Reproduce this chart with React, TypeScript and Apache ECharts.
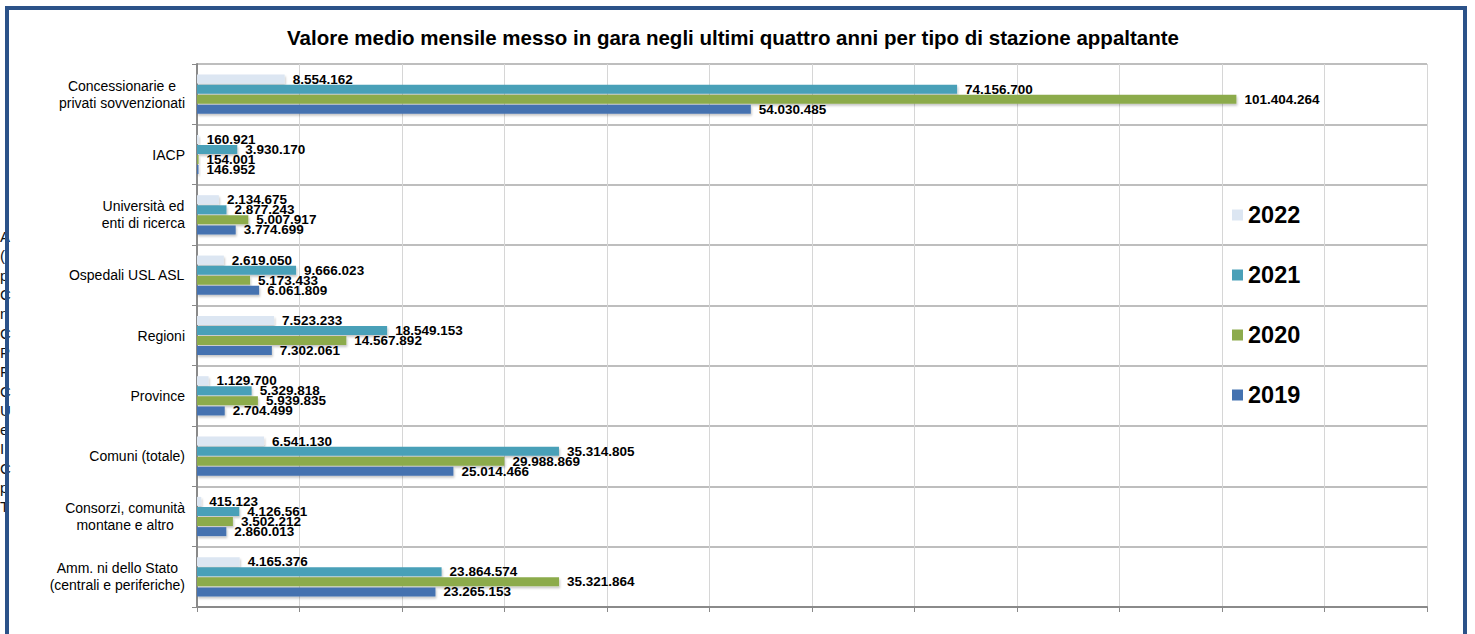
import React, { useEffect, useRef } from 'react';
import * as echarts from 'echarts';

const categories = [
  'Concessionarie e\nprivati sovvenzionati',
  'IACP',
  'Università ed\nenti di ricerca',
  'Ospedali USL ASL',
  'Regioni',
  'Province',
  'Comuni (totale)',
  'Consorzi, comunità\nmontane e altro',
  'Amm. ni dello Stato\n(centrali e periferiche)',
];
const years = ['2022', '2021', '2020', '2019'];
const values2022 = [8554162, 160921, 2134675, 2619050, 7523233, 1129700, 6541130, 415123, 4165376];
const values2021 = [74156700, 3930170, 2877243, 9666023, 18549153, 5329818, 35314805, 4126561, 23864574];
const values2020 = [101404264, 154001, 5007917, 5173433, 14567892, 5939835, 29988869, 3502212, 35321864];
const values2019 = [54030485, 146952, 3774699, 6061809, 7302061, 2704499, 25014466, 2860013, 23265153];
const seriesValues = [values2022, values2021, values2020, values2019];
const colors = ['#dce6f2', '#4aa0b8', '#8cab4c', '#4472b0'];
const titleText = 'Valore medio mensile messo in gara negli ultimi quattro anni per tipo di stazione appaltante';
const leftEdgeLetters = ['A', '(', 'p', 'C', 'n', 'C', 'P', 'F', 'C', 'U', 'e', 'I', 'C', 'p', 'T'];

const fmt = (v: number) => String(v).replace(/\B(?=(\d{3})+(?!\d))/g, '.');

export default function App() {
  const ref = useRef<HTMLDivElement>(null);
  useEffect(() => {
    if (!ref.current) return;
    const chart = echarts.init(ref.current, undefined, { renderer: 'svg' });
    chart.setOption({
      animation: false,
      backgroundColor: '#ffffff',
      title: {
        text: titleText,
        left: 733,
        top: 27,
        textAlign: 'center',
        padding: 0,
        textStyle: { fontFamily: 'Arial', fontSize: 20.5, fontWeight: 'bold', color: '#000' },
      },
      legend: {
        orient: 'vertical',
        left: 1232,
        top: 203,
        padding: 0,
        itemWidth: 11,
        itemHeight: 11,
        itemGap: 36,
        icon: 'rect',
        data: years,
        selectedMode: false,
        textStyle: { fontFamily: 'Arial', fontSize: 23.5, fontWeight: 'bold', color: '#000', lineHeight: 24 },
      },
      grid: { left: 197, right: 48, top: 64, bottom: 27, containLabel: false },
      xAxis: {
        type: 'value',
        min: 0,
        max: 120000000,
        interval: 10000000,
        axisLabel: { show: false },
        axisLine: { show: true, lineStyle: { color: '#8a8a8a', width: 2 } },
        axisTick: { show: true, length: 5, lineStyle: { color: '#8a8a8a' } },
        splitLine: { show: true, lineStyle: { color: '#d6d6d6', width: 1 } },
      },
      yAxis: {
        type: 'category',
        data: categories,
        inverse: true,
        axisLine: { show: true, lineStyle: { color: '#8a8a8a', width: 2 } },
        axisTick: { show: true, length: 5, lineStyle: { color: '#8a8a8a' } },
        splitLine: { show: true, lineStyle: { color: '#a8a8a8', width: 1.5 } },
        axisLabel: {
          margin: 12,
          color: '#000',
          fontFamily: 'Arial',
          fontSize: 14,
          formatter: (v: string) => v.split('\n').map((l) => `{c|${l}}`).join('\n'),
          rich: { c: { align: 'center', fontFamily: 'Arial', fontSize: 14, color: '#000', lineHeight: 17 } },
        },
      },
      series: years.map((y, i) => ({
        name: y,
        type: 'bar',
        data: seriesValues[i],
        barWidth: 9,
        barGap: '12%',
        itemStyle: {
          color: colors[i],
          shadowColor: 'rgba(0,0,0,0.22)',
          shadowBlur: 2,
          shadowOffsetX: 1,
          shadowOffsetY: 2,
        },
        label: {
          show: true,
          position: 'right',
          distance: 8,
          formatter: (p: any) => fmt(p.value),
          fontFamily: 'Arial',
          fontSize: 13.5,
          fontWeight: 'bold',
          color: '#000',
        },
      })),
      graphic: [
        {
          type: 'text',
          left: 0,
          top: 227,
          z: 1,
          style: { text: leftEdgeLetters.join('\n'), font: '15px Arial', lineHeight: 19.3, fill: '#111' },
        },
        {
          type: 'rect',
          z: 10,
          shape: { x: 7, y: 8, width: 1458, height: 700 },
          style: { fill: 'none', stroke: '#2b5289', lineWidth: 4 },
        },
      ],
    });
    return () => chart.dispose();
  }, []);
  return <div ref={ref} style={{ position: 'absolute', left: 0, top: 0, width: 1475, height: 634 }} />;
}
